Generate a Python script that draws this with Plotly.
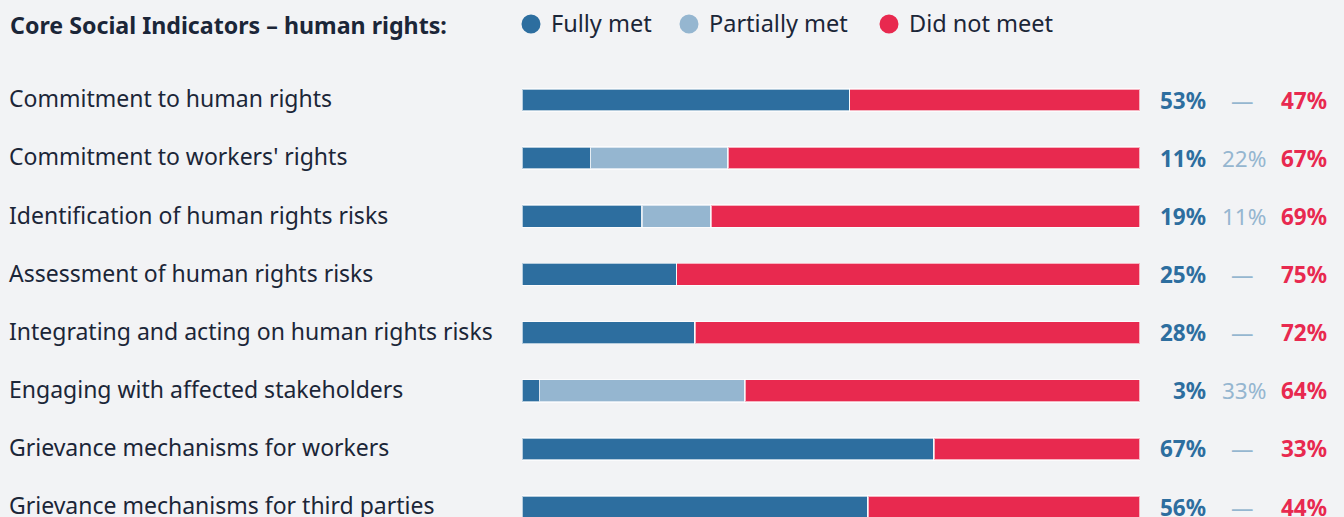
import plotly.graph_objects as go

categories = [
    "Commitment to human rights",
    "Commitment to workers' rights",
    "Identification of human rights risks",
    "Assessment of human rights risks",
    "Integrating and acting on human rights risks",
    "Engaging with affected stakeholders",
    "Grievance mechanisms for workers",
    "Grievance mechanisms for third parties",
]
fully_met = [53.0, 11.1, 19.4, 25.0, 28.0, 2.8, 66.7, 56.0]
partially_met = [0.0, 22.2, 11.2, 0.0, 0.0, 33.3, 0.0, 0.0]
did_not_meet = [47.0, 66.7, 69.4, 75.0, 72.0, 63.9, 33.3, 44.0]
series_names = ["Fully met", "Partially met", "Did not meet"]
title_text = "Core Social Indicators – human rights:"

C_FULL = "#2D6E9F"
C_PART = "#95B6D0"
C_NOT = "#E8294F"
C_TEXT = "#1B2638"
BG = "#F2F3F5"
FONT = "Noto Sans"

W, H = 1344, 517
ypos = list(range(len(categories)))

fig = go.Figure()
for vals, col, name in [(fully_met, C_FULL, series_names[0]),
                        (partially_met, C_PART, series_names[1]),
                        (did_not_meet, C_NOT, series_names[2])]:
    fig.add_trace(go.Bar(
        x=vals, y=ypos, orientation="h", name=name,
        marker=dict(color=col, line=dict(color="rgba(255,255,255,0.65)", width=1.5)),
        width=0.38, showlegend=False, hoverinfo="x+name",
    ))

annotations = []
annotations.append(dict(x=8 / W, y=1 - 25 / H, xref="paper", yref="paper",
                        text="<b>" + title_text + "</b>", showarrow=False, xanchor="left",
                        yanchor="middle", font=dict(size=23.2, color=C_TEXT, family=FONT)))
for i, cat in enumerate(categories):
    annotations.append(dict(x=7 / W, y=i - 0.03, xref="paper", yref="y", text=cat, showarrow=False,
                            xanchor="left", yanchor="middle",
                            font=dict(size=23, color=C_TEXT, family=FONT)))
    annotations.append(dict(x=1208 / W, y=i, xref="paper", yref="y",
                            text="<b>%d%%</b>" % round(fully_met[i]), showarrow=False,
                            xanchor="right", yanchor="middle",
                            font=dict(size=22.5, color=C_FULL, family=FONT)))
    if partially_met[i] > 0:
        annotations.append(dict(x=1268 / W, y=i, xref="paper", yref="y",
                                text="%d%%" % round(partially_met[i]), showarrow=False,
                                xanchor="right", yanchor="middle",
                                font=dict(size=22.5, color=C_PART, family=FONT)))
    else:
        annotations.append(dict(x=1242 / W, y=i, xref="paper", yref="y",
                                text="—", showarrow=False,
                                xanchor="center", yanchor="middle",
                                font=dict(size=22.5, color=C_PART, family=FONT)))
    annotations.append(dict(x=1329 / W, y=i, xref="paper", yref="y",
                            text="<b>%d%%</b>" % round(did_not_meet[i]), showarrow=False,
                            xanchor="right", yanchor="middle",
                            font=dict(size=22.5, color=C_NOT, family=FONT)))

shapes = []
leg_x = [531, 689, 889]
for lx, col, name in zip(leg_x, [C_FULL, C_PART, C_NOT], series_names):
    shapes.append(dict(type="circle", xref="paper", yref="paper",
                       x0=(lx - 9.5) / W, x1=(lx + 9.5) / W,
                       y0=1 - (24 + 9.5) / H, y1=1 - (24 - 9.5) / H,
                       fillcolor=col, line=dict(width=0)))
    annotations.append(dict(x=(lx + 18) / W, y=1 - 23 / H, xref="paper", yref="paper",
                            text=name, showarrow=False, xanchor="left", yanchor="middle",
                            font=dict(size=23.5, color=C_TEXT, family=FONT)))

step = (507 - 100) / 7
y_top = -100 / step
y_bot = (H - 100) / step

fig.update_layout(
    width=W, height=H,
    margin=dict(l=0, r=0, t=0, b=0),
    paper_bgcolor=BG, plot_bgcolor=BG,
    barmode="stack",
    xaxis=dict(domain=[522 / W, 1140 / W], range=[0, 100], visible=False, fixedrange=True),
    yaxis=dict(range=[y_bot, y_top], visible=False, fixedrange=True),
    annotations=annotations,
    shapes=shapes,
    font=dict(family=FONT),
    showlegend=False,
)

fig.write_html("out.html")
